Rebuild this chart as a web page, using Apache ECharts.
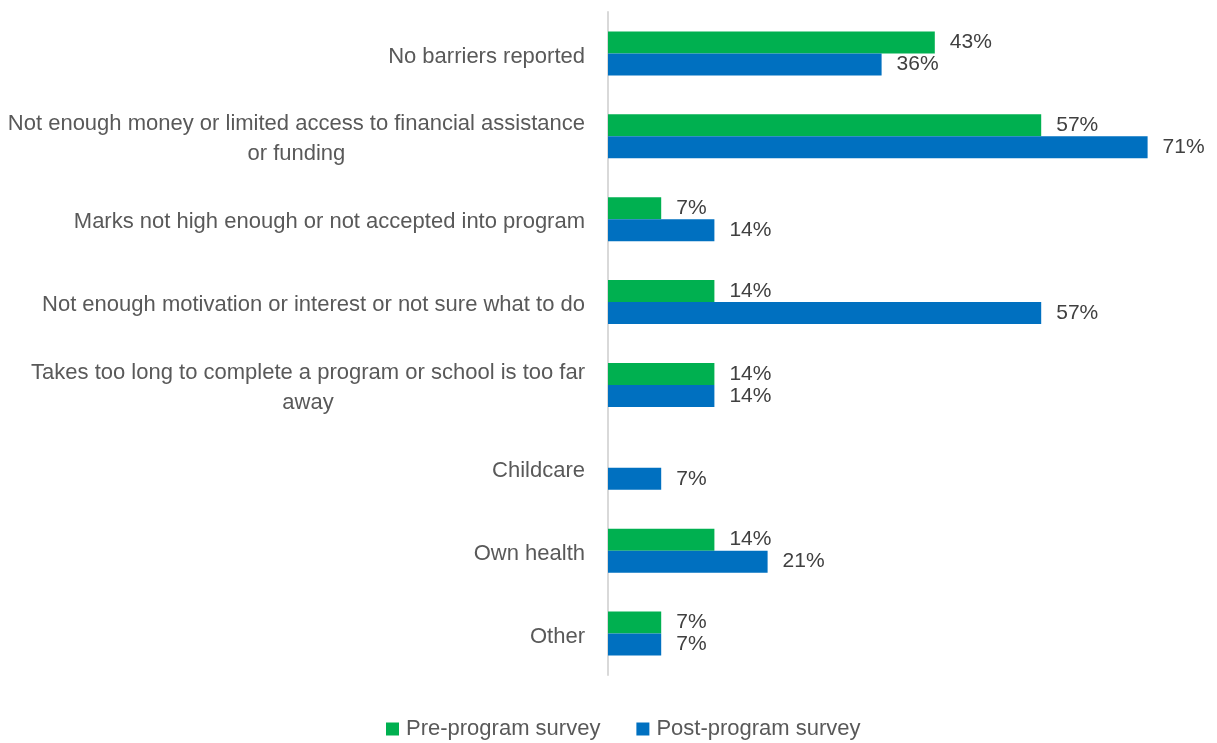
<!DOCTYPE html>
<html>
<head>
<meta charset="utf-8">
<script src="https://cdn.jsdelivr.net/npm/echarts@6/dist/echarts.min.js"></script>
<style>
  html, body { margin: 0; padding: 0; background: #fff; }
  #chart { width: 1217px; height: 743px; }
</style>
</head>
<body>
<div id="chart"></div>
<script>
// Barriers to further education, share of respondents (%)
const categories = [
  'No barriers reported',
  'Not enough money or limited access to financial assistance\nor funding',
  'Marks not high enough or not accepted into program',
  'Not enough motivation or interest or not sure what to do',
  'Takes too long to complete a program or school is too far\naway',
  'Childcare',
  'Own health',
  'Other'
];
const preProgram = [43, 57, 7, 14, 14, null, 14, 7];
const postProgram = [36, 71, 14, 57, 14, 7, 21, 7];
const seriesNames = ['Pre-program survey', 'Post-program survey'];

const FONT = '"Liberation Sans", Arial, sans-serif';

const chart = echarts.init(document.getElementById('chart'), null, { renderer: 'canvas' });

const labelStyle = {
  show: true,
  position: 'right',
  distance: 15,
  fontFamily: FONT,
  fontSize: 21,
  color: '#404040',
  formatter: p => p.value == null ? '' : p.value + '%'
};

chart.setOption({
  animation: false,
  textStyle: { fontFamily: FONT },
  grid: { left: 608, right: 1, top: 12, bottom: 68, containLabel: false, outerBoundsMode: 'none' },
  legend: {
    data: seriesNames,
    bottom: -2,
    left: 381,
    icon: 'rect',
    itemWidth: 13,
    itemHeight: 13,
    itemGap: 36,
    textStyle: { fontFamily: FONT, fontSize: 22, color: '#595959', padding: [0, 0, 0, 2] }
  },
  xAxis: {
    type: 'value',
    min: 0,
    max: 80,
    show: false
  },
  yAxis: {
    type: 'category',
    data: categories,
    inverse: true,
    axisLine: { show: true, lineStyle: { color: '#D9D9D9', width: 2 } },
    axisTick: { show: false },
    axisLabel: {
      margin: 23,
      align: 'right',
      color: '#595959',
      padding: [6, 0, 0, 0],
      // each line is centred inside the label block, the block sits right-aligned
      formatter: v => v.split('\n').map(s => '{c|' + s + '}').join('\n'),
      rich: {
        c: {
          align: 'center',
          fontFamily: FONT,
          fontSize: 22,
          lineHeight: 30,
          color: '#595959'
        }
      }
    }
  },
  series: [
    {
      name: seriesNames[0],
      type: 'bar',
      data: preProgram,
      barWidth: 22,
      barGap: '0%',
      itemStyle: { color: '#00B050' },
      label: labelStyle
    },
    {
      name: seriesNames[1],
      type: 'bar',
      data: postProgram,
      barWidth: 22,
      barGap: '0%',
      itemStyle: { color: '#0070C0' },
      label: labelStyle
    }
  ]
});
</script>
</body>
</html>
